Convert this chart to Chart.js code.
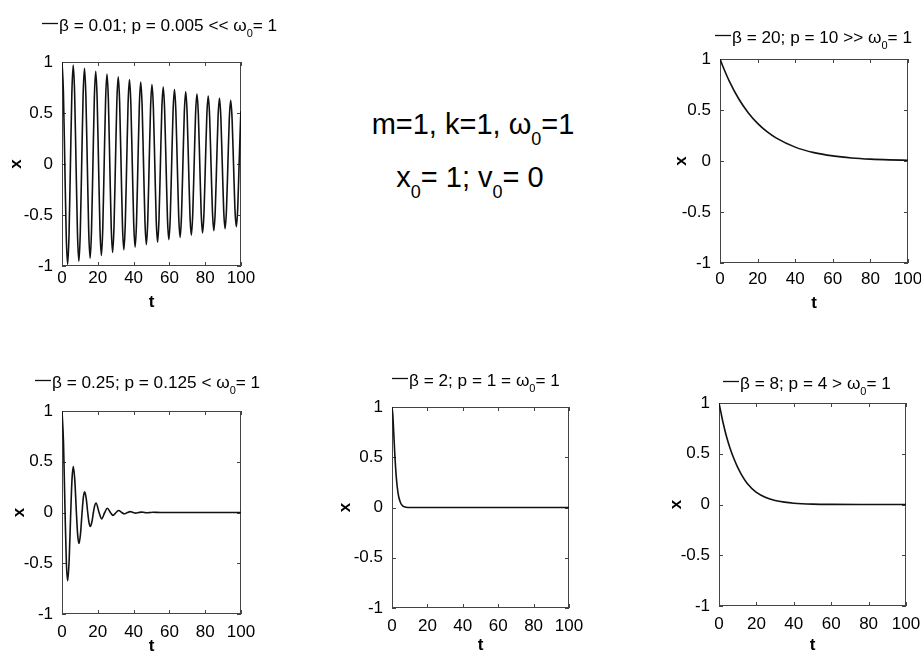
<!DOCTYPE html>
<html lang="en">
<head>
<meta charset="UTF-8">
<title>Damped oscillator</title>
<script src="https://cdn.jsdelivr.net/npm/chart.js@4.4.0/dist/chart.umd.min.js"></script>
<style>
  html, body { margin:0; padding:0; background:#fff; overflow:hidden; }
  body { width:921px; height:653px; position:relative; font-family:"Liberation Sans", Arial, sans-serif; }
  canvas { position:absolute; }
  .note { position:absolute; width:400px; text-align:center; font-size:29px; line-height:29px; color:#000; white-space:nowrap; }
  .note .s { font-size:18px; position:relative; top:11px; }
</style>
</head>
<body>
<div class="note" style="top:110px; left:273px">m=1, k=1, ω<span class="s">0</span>=1</div>
<div class="note" style="top:163px; left:270px">x<span class="s">0</span>= 1; v<span class="s">0</span>= 0</div>
<script>
const FONT = '"Liberation Sans", Arial, sans-serif';

// axis ticks (same on every panel)
const tTicks = [0, 20, 40, 60, 80, 100];
const xTicks = [-1, -0.5, 0, 0.5, 1];

// beta = 0.01 : weak damping
const tWeak = [
  0, 0.79, 1.57, 2.36, 3.14, 3.93, 4.71, 5.50, 6.28, 7.07, 7.85, 8.64, 9.42, 10.21, 11.00, 11.78,
  12.57, 13.35, 14.14, 14.92, 15.71, 16.49, 17.28, 18.06, 18.85, 19.63, 20.42, 21.21, 21.99, 22.78, 23.56, 24.35,
  25.13, 25.92, 26.70, 27.49, 28.27, 29.06, 29.85, 30.63, 31.42, 32.20, 32.99, 33.77, 34.56, 35.34, 36.13, 36.91,
  37.70, 38.48, 39.27, 40.06, 40.84, 41.63, 42.41, 43.20, 43.98, 44.77, 45.55, 46.34, 47.12, 47.91, 48.69, 49.48,
  50.27, 51.05, 51.84, 52.62, 53.41, 54.19, 54.98, 55.76, 56.55, 57.33, 58.12, 58.90, 59.69, 60.48, 61.26, 62.05,
  62.83, 63.62, 64.40, 65.19, 65.97, 66.76, 67.54, 68.33, 69.12, 69.90, 70.69, 71.47, 72.26, 73.04, 73.83, 74.61,
  75.40, 76.18, 76.97, 77.75, 78.54, 79.33, 80.11, 80.90, 81.68, 82.47, 83.25, 84.04, 84.82, 85.61, 86.39, 87.18,
  87.96, 88.75, 89.54, 90.32, 91.11, 91.89, 92.68, 93.46, 94.25, 95.03, 95.82, 96.60, 97.39, 98.17, 98.96, 99.75,
  100];
const xWeak = [
  1, 0.704, 0, -0.699, -0.984, -0.693, 0, 0.688, 0.969, 0.682, 0, -0.677, -0.954, -0.672, 0, 0.667,
  0.939, 0.661, 0, -0.656, -0.924, -0.650, 0, 0.646, 0.910, 0.641, 0, -0.636, -0.896, -0.631, 0, 0.626,
  0.882, 0.621, 0, -0.616, -0.868, -0.611, 0, 0.607, 0.855, 0.602, 0, -0.597, -0.841, -0.592, 0, 0.588,
  0.828, 0.583, 0, -0.579, -0.815, -0.574, 0, 0.570, 0.803, 0.565, 0, -0.561, -0.790, -0.556, 0, 0.552,
  0.778, 0.548, 0, -0.544, -0.766, -0.539, 0, 0.535, 0.754, 0.531, 0, -0.527, -0.742, -0.522, 0, 0.518,
  0.730, 0.514, 0, -0.510, -0.719, -0.506, 0, 0.503, 0.708, 0.498, 0, -0.495, -0.697, -0.491, 0, 0.487,
  0.686, 0.483, 0, -0.479, -0.675, -0.475, 0, 0.472, 0.665, 0.468, 0, -0.464, -0.654, -0.460, 0, 0.457,
  0.644, 0.453, 0, -0.450, -0.634, -0.446, 0, 0.443, 0.624, 0.439, 0, -0.437, -0.615, -0.433, 0, 0.429,
  0.52];

// beta = 0.25 : underdamped
const tUnder = [0, 0.85, 1.71, 2.45, 3.17, 4.00, 4.88, 5.60, 6.33, 7.20, 8.04, 8.77, 9.50, 10.35, 11.21, 11.94,
  12.67, 13.52, 14.37, 15.10, 15.83, 16.69, 17.54, 18.27, 19.00, 20.71, 22.16, 23.87,
  25.33, 27.04, 28.50, 30.21, 31.66, 33.37, 34.83, 36.54, 38.00, 39.70, 41.16, 42.87, 44.33, 46.04, 47.49, 49.20,
  50.66, 55, 100];
const xUnder = [1, 0.682, 0, -0.497, -0.673, -0.468, 0, 0.331, 0.453, 0.304, 0, -0.223, -0.305, -0.208, 0, 0.151,
  0.205, 0.139, 0, -0.100, -0.138, -0.094, 0, 0.068, 0.093, 0, -0.063, 0,
  0.042, 0, -0.028, 0, 0.019, 0, -0.013, 0, 0.009, 0, -0.006, 0, 0.004, 0, -0.003, 0,
  0.002, 0, 0];

// beta = 2 : critical damping
const tCrit = [0, 0.5, 1, 1.5, 2, 2.5, 3, 3.5, 4, 5, 6, 7, 8, 10, 15, 100];
const xCrit = [1, 0.910, 0.736, 0.558, 0.406, 0.287, 0.199, 0.136, 0.092, 0.040, 0.017, 0.007, 0.003, 0.0005, 0, 0];

// beta = 8 : overdamped
const tOver = [0, 1, 2, 4, 6, 8, 10, 12, 15, 20, 25, 30, 35, 40, 50, 60, 80, 100];
const xOver = [1, 0.91, 0.82, 0.67, 0.55, 0.45, 0.365, 0.295, 0.21, 0.12, 0.07, 0.04, 0.023, 0.013, 0.004, 0.001, 0, 0];

// beta = 20 : strongly overdamped
const tStrong = [0, 2, 5, 10, 15, 20, 25, 30, 40, 50, 60, 70, 80, 90, 100];
const xStrong = [1, 0.907, 0.781, 0.608, 0.474, 0.369, 0.287, 0.224, 0.136, 0.082, 0.050, 0.030, 0.018, 0.011, 0.007];

const LEFT = 62, TOP = 55, RIGHT = 45, BOTTOM = 55;

const panels = [
  { box: [62, 62, 241, 266], t: tWeak, x: xWeak, key: [42, 23], label: ['β = 0.01; p = 0.005 << ω', '0', '= 1'], yOff: 46, tOff: 36, xPad: 2 },
  { box: [720, 59, 908, 263], t: tStrong, x: xStrong, key: [715, 35], label: ['β = 20; p = 10 >> ω', '0', '= 1'], yOff: 39, tOff: 40, xPad: 6 },
  { box: [62, 411, 241, 614], t: tUnder, x: xUnder, key: [35, 380], label: ['β = 0.25; p = 0.125 < ω', '0', '= 1'], yOff: 43, tOff: 32, xPad: 8 },
  { box: [392, 407, 569, 608], t: tCrit, x: xCrit, key: [392, 378], label: ['β = 2; p = 1 = ω', '0', '= 1'], yOff: 47, tOff: 37, xPad: 8 },
  { box: [719, 403, 906, 606], t: tOver, x: xOver, key: [723, 381], label: ['β = 8; p = 4 > ω', '0', '= 1'], yOff: 43, tOff: 39, xPad: 8 }
];

function framePlugin(p) {
  const ox = p.box[0] - LEFT, oy = p.box[1] - TOP;
  return {
    id: 'frame',
    beforeDatasetsDraw(chart) {
      const { ctx, chartArea: a, scales } = chart;
      ctx.save();
      ctx.strokeStyle = '#444';
      ctx.lineWidth = 1;
      ctx.strokeRect(a.left + 0.5, a.top + 0.5, a.width - 1, a.height - 1);
      ctx.beginPath();
      scales.x.ticks.forEach(tk => {
        const px = Math.round(scales.x.getPixelForValue(tk.value)) + 0.5;
        ctx.moveTo(px, a.bottom); ctx.lineTo(px, a.bottom - 4);
        ctx.moveTo(px, a.top); ctx.lineTo(px, a.top + 4);
      });
      scales.y.ticks.forEach(tk => {
        const py = Math.round(scales.y.getPixelForValue(tk.value)) + 0.5;
        ctx.moveTo(a.left, py); ctx.lineTo(a.left + 4, py);
        ctx.moveTo(a.right, py); ctx.lineTo(a.right - 4, py);
      });
      ctx.stroke();
      ctx.restore();
    },
    afterDraw(chart) {
      const ctx = chart.ctx;
      const kx = p.key[0] - ox, ky = p.key[1] - oy;
      ctx.save();
      ctx.strokeStyle = '#111';
      ctx.lineWidth = 1.3;
      ctx.beginPath();
      ctx.moveTo(kx, ky + 0.5); ctx.lineTo(kx + 16, ky + 0.5);
      ctx.stroke();
      ctx.fillStyle = '#000';
      ctx.textBaseline = 'alphabetic';
      const base = ky + 8;
      let x = kx + 17;
      ctx.font = '17.2px ' + FONT;
      ctx.fillText(p.label[0], x, base);
      x += ctx.measureText(p.label[0]).width;
      ctx.font = '11px ' + FONT;
      ctx.fillText(p.label[1], x, base + 6);
      x += ctx.measureText(p.label[1]).width;
      ctx.font = '17.2px ' + FONT;
      ctx.fillText(p.label[2], x, base);
      ctx.restore();
    }
  };
}

function makePlot(p) {
  const bw = p.box[2] - p.box[0], bh = p.box[3] - p.box[1];
  const W = bw + LEFT + RIGHT, H = bh + TOP + BOTTOM;
  const c = document.createElement('canvas');
  c.width = W; c.height = H;
  c.style.left = (p.box[0] - LEFT) + 'px';
  c.style.top = (p.box[1] - TOP) + 'px';
  c.style.width = W + 'px'; c.style.height = H + 'px';
  document.body.appendChild(c);

  new Chart(c, {
    type: 'line',
    data: {
      datasets: [{
        data: p.t.map((t, i) => ({ x: t, y: p.x[i] })),
        borderColor: '#111',
        borderWidth: 1.6,
        pointRadius: 0,
        cubicInterpolationMode: 'monotone',
        fill: false
      }]
    },
    options: {
      responsive: false,
      animation: false,
      events: [],
      layout: { padding: { top: TOP, right: RIGHT, left: 0, bottom: 0 } },
      plugins: { legend: { display: false }, tooltip: { enabled: false } },
      scales: {
        x: {
          type: 'linear', min: 0, max: 100,
          grid: { display: false, drawTicks: false }, border: { display: false },
          afterBuildTicks: s => { s.ticks = tTicks.map(v => ({ value: v })); },
          ticks: { color: '#000', font: { family: FONT, size: 17 }, padding: p.xPad, maxRotation: 0, autoSkip: false, callback: v => String(v) },
          title: { display: true, text: 't', color: '#000', font: { family: FONT, size: 17, weight: 'bold' }, padding: { top: 0, bottom: Math.max(0, BOTTOM - p.tOff - 10.2) } },
          afterFit: s => { s.height = BOTTOM; }
        },
        y: {
          type: 'linear', min: -1, max: 1,
          grid: { display: false, drawTicks: false }, border: { display: false },
          afterBuildTicks: s => { s.ticks = xTicks.map(v => ({ value: v })); },
          ticks: { color: '#000', font: { family: FONT, size: 17 }, padding: 9, autoSkip: false, callback: v => String(v) },
          title: { display: true, text: 'x', color: '#000', font: { family: FONT, size: 17, weight: 'bold' }, padding: { top: Math.max(0, LEFT - p.yOff - 10.2), bottom: 0 } },
          afterFit: s => { s.width = LEFT; }
        }
      }
    },
    plugins: [framePlugin(p)]
  });
}

panels.forEach(makePlot);
</script>
</body>
</html>
